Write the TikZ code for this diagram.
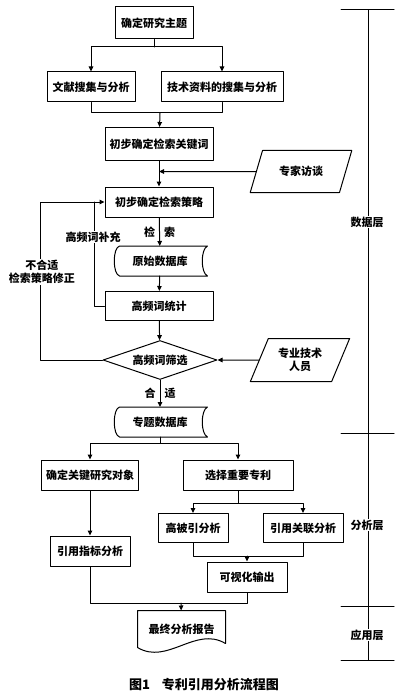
\documentclass[tikz,border=0pt]{standalone}
\usepackage{fontspec}
\setmainfont{Noto Sans CJK SC}
\usetikzlibrary{arrows.meta,shapes.geometric}

\begin{document}
\begin{tikzpicture}[x=1pt, y=-1pt, line cap=round, line join=round,
		>={Triangle[length=5pt,width=4.5pt]}, line width=1pt,
		every node/.style={font=\bfseries\fontsize{11}{13.5}\selectfont},
		box/.style={draw, rectangle, minimum height=30pt, inner sep=2pt},
		store/.style={rectangle, minimum width=94pt, minimum height=29pt},
		slant/.style={draw, trapezium, trapezium left angle=65, trapezium right angle=115,
			trapezium stretches=true, minimum width=102pt, minimum height=42pt, align=center},
		note/.style={fill=white, inner sep=1pt, align=center}]
	% Page frame
	\useasboundingbox (0,0) rectangle (400,695);
	
	% Outline of a stored-data shape round a node
	\def\storeoutline#1{%
		\draw ([xshift=7pt]#1.north west) -- (#1.north east)
		.. controls ([xshift=-7pt,yshift=-3pt]#1.north east) and ([xshift=-7pt,yshift=3pt]#1.south east) .. (#1.south east)
		-- ([xshift=7pt]#1.south west)
		.. controls ([yshift=2pt]#1.south west) and ([yshift=-2pt]#1.north west) .. ([xshift=7pt]#1.north west);}
	
	% Data layer
	\node[box, minimum width=78pt, minimum height=32pt] (topic) at (154,23) {确定研究主题};
	\node[box, minimum width=88pt] (lit) at (91,87) {文献搜集与分析};
	\node[box, minimum width=122pt] (tech) at (222,87) {技术资料的搜集与分析};
	\node[box, minimum width=108pt, minimum height=33pt] (keyw) at (159,144) {初步确定检索关键词};
	\node[box, minimum width=108pt] (strat) at (159,202) {初步确定检索策略};
	\node[slant] (expert) at (301,171.5) {专家访谈};
	\node[store] (rawdb) at (160,261) {原始数据库};
	\storeoutline{rawdb}
	\node[box, minimum width=108pt, minimum height=29pt] (freq) at (159,306) {高频词统计};
	\node[draw, diamond, aspect=2.9, minimum width=114pt, minimum height=39pt, inner sep=0pt] (filter) at (160,360) {高频词筛选};
	\node[slant, minimum width=100pt, minimum height=43pt] (staff) at (300,360) {专业技术\\人员};
	\node[store] (topicdb) at (160,422) {专题数据库};
	\storeoutline{topicdb}
	
	% Analysis layer
	\node[box, minimum width=97pt] (keyobj) at (90,475) {确定关键研究对象};
	\node[box, minimum width=110pt] (choose) at (238,475) {选择重要专利};
	\node[box, minimum width=70pt, minimum height=29pt] (highcite) at (193,528) {高被引分析};
	\node[box, minimum width=80pt, minimum height=29pt] (assoc) at (303,528) {引用关联分析};
	\node[box, minimum width=80pt] (index) at (90,551) {引用指标分析};
	\node[box, minimum width=80pt] (visual) at (247,577) {可视化输出};
	
	% Application layer: document shape
	\node[rectangle, minimum width=87pt, minimum height=36pt] (report) at (181.5,629) {最终分析报告};
	\draw (report.north west) -- (report.north east) -- ([yshift=4pt]report.south east)
	.. controls ([xshift=-30pt,yshift=22pt]report.south east) and ([xshift=30pt,yshift=-18pt]report.south west) .. (report.south west) -- cycle;
	
	% Branch and merge points
	\coordinate (s1) at (154,47);
	\coordinate (m1) at (160,113);
	\coordinate (fb) at (40,202);
	\coordinate (fb2) at (94,202);
	\coordinate (s2) at (160,443);
	\coordinate (s3) at (238,503);
	\coordinate (m2) at (247,556);
	\coordinate (m3) at (181,603);
	
	% Connectors
	\draw (topic) -- (s1);
	\draw[->] (s1) -| (lit);
	\draw[->] (s1) -| (tech);
	\draw (lit) |- (m1);
	\draw (tech) |- (m1);
	\draw[->] (m1) -- (keyw);
	\draw[->] (keyw) -- (strat);
	\draw[->] (expert) -- (expert -| keyw);
	\draw[->] (strat) -- node[pos=0.5]{检\hspace{9pt}索} (rawdb);
	\draw[->] (rawdb) -- (freq);
	\draw[->] (freq) -- (filter);
	\draw[->] (staff) -- (filter);
	\draw[->] (filter) -- node[pos=0.5]{合\hspace{9pt}适} (topicdb);
	\draw[->] (filter.west) -| (fb) -- (strat);
	\draw (freq.west) -| (fb2);
	\draw (topicdb) -- (s2);
	\draw[->] (s2) -| (keyobj);
	\draw[->] (s2) -| (choose);
	\draw (choose) -- (s3);
	\draw[->] (s3) -| (highcite);
	\draw[->] (s3) -| (assoc);
	\draw (highcite) |- (m2);
	\draw (assoc) |- (m2);
	\draw[->] (m2) -- (visual);
	\draw[->] (keyobj) -- (index);
	\draw (index) |- (m3);
	\draw (visual) |- (m3);
	\draw[->] (m3) -- (report);
	
	% Loop labels
	\node[note] (more) at (93,237) {高频词补充};
	\node[note] (revise) at (42,272) {不合适\\检索策略修正};
	
	% Layer scale on the right
	\draw (368,10) -- (368,660);
	\foreach \y in {10,433,606,660}
		\draw (341,\y) -- (394,\y);
	\node[note] (datal) at (367,222) {数据层};
	\node[note] (anal) at (367,525) {分析层};
	\node[note] (appl) at (367,635) {应用层};
	
	% Caption
	\node[font=\bfseries\fontsize{13}{15}\selectfont] (cap) at (204,685) {图1\hspace{12pt}专利引用分析流程图};
\end{tikzpicture}
\end{document}
